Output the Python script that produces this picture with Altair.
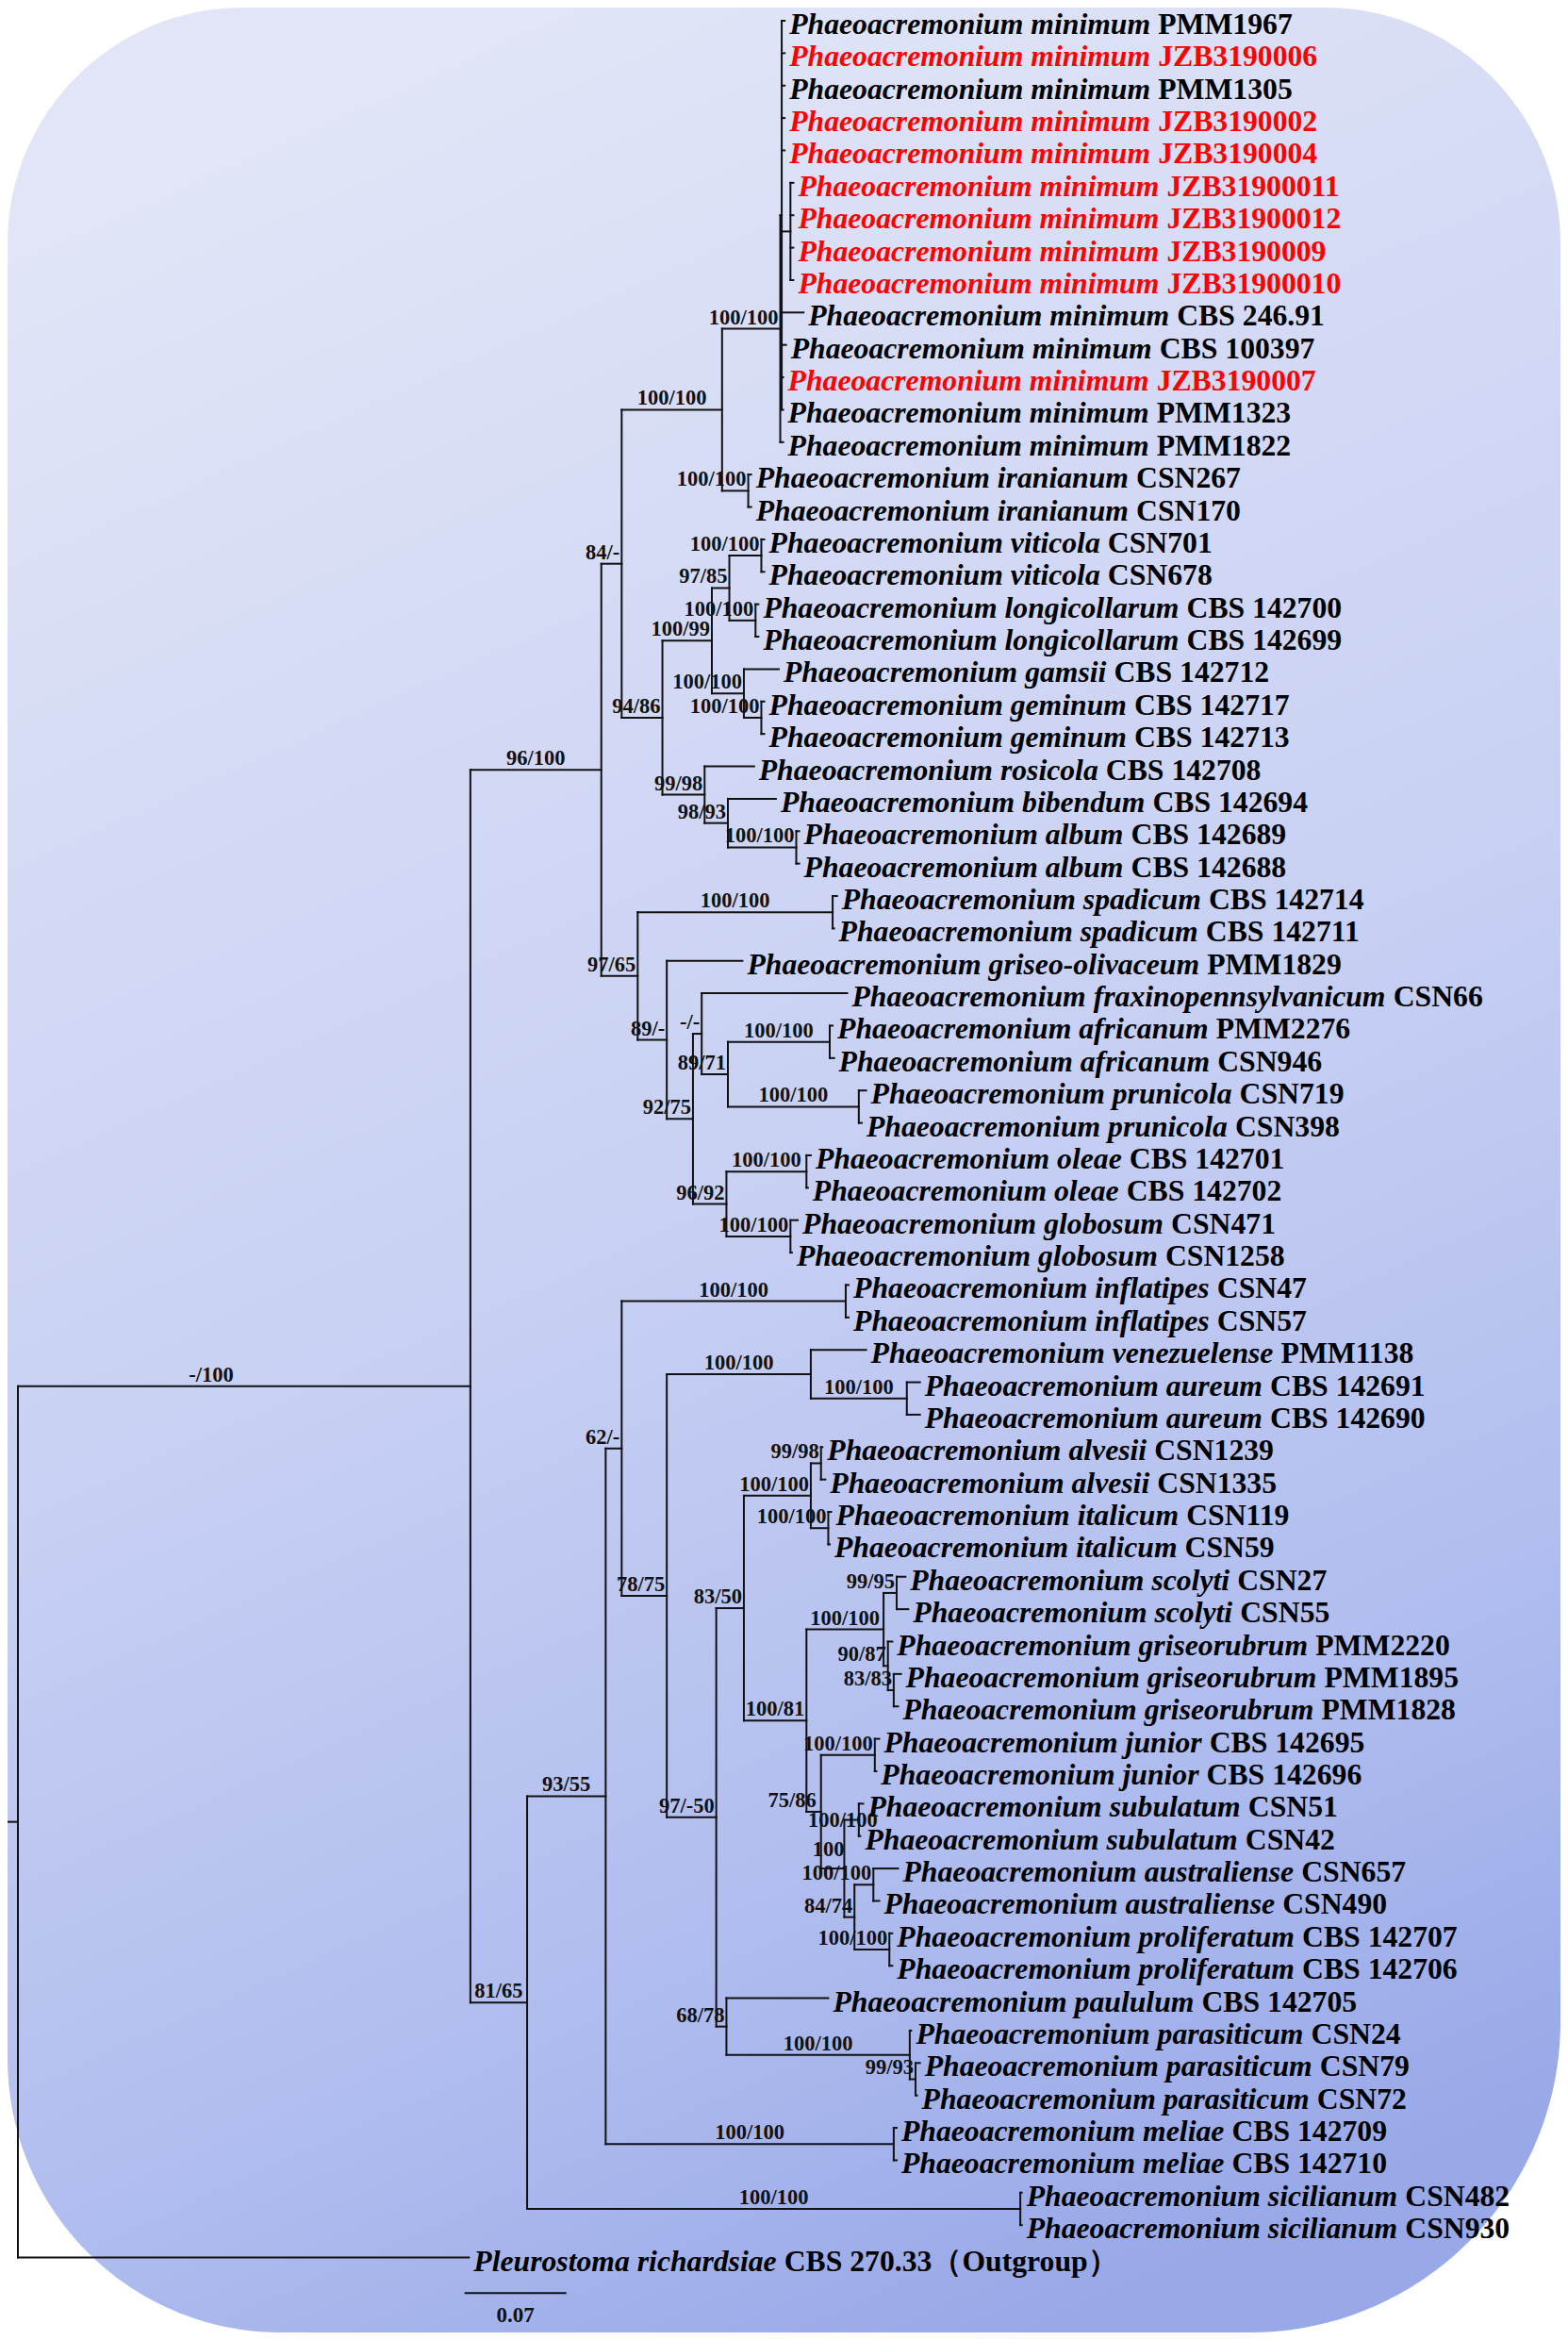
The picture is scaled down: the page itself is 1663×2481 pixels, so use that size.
import glob
import struct
import altair as alt
import pandas as pd

# ---------------- data ----------------
GENUS = "Phaeoacremonium"
leaf_species = (
    ["minimum"] * 14
    + ["iranianum"] * 2 + ["viticola"] * 2 + ["longicollarum"] * 2 + ["gamsii"]
    + ["geminum"] * 2 + ["rosicola", "bibendum"] + ["album"] * 2 + ["spadicum"] * 2
    + ["griseo-olivaceum", "fraxinopennsylvanicum"] + ["africanum"] * 2 + ["prunicola"] * 2
    + ["oleae"] * 2 + ["globosum"] * 2 + ["inflatipes"] * 2 + ["venezuelense"]
    + ["aureum"] * 2 + ["alvesii"] * 2 + ["italicum"] * 2 + ["scolyti"] * 2
    + ["griseorubrum"] * 3 + ["junior"] * 2 + ["subulatum"] * 2 + ["australiense"] * 2
    + ["proliferatum"] * 2 + ["paululum"] + ["parasiticum"] * 3 + ["meliae"] * 2
    + ["sicilianum"] * 2
)
leaf_strain = [
    "PMM1967", "JZB3190006", "PMM1305", "JZB3190002", "JZB3190004", "JZB31900011",
    "JZB31900012", "JZB3190009", "JZB31900010", "CBS 246.91", "CBS 100397", "JZB3190007",
    "PMM1323", "PMM1822", "CSN267", "CSN170", "CSN701", "CSN678", "CBS 142700",
    "CBS 142699", "CBS 142712", "CBS 142717", "CBS 142713", "CBS 142708", "CBS 142694",
    "CBS 142689", "CBS 142688", "CBS 142714", "CBS 142711", "PMM1829", "CSN66",
    "PMM2276", "CSN946", "CSN719", "CSN398", "CBS 142701", "CBS 142702", "CSN471",
    "CSN1258", "CSN47", "CSN57", "PMM1138", "CBS 142691", "CBS 142690", "CSN1239",
    "CSN1335", "CSN119", "CSN59", "CSN27", "CSN55", "PMM2220", "PMM1895", "PMM1828",
    "CBS 142695", "CBS 142696", "CSN51", "CSN42", "CSN657", "CSN490", "CBS 142707",
    "CBS 142706", "CBS 142705", "CSN24", "CSN79", "CSN72", "CBS 142709", "CBS 142710",
    "CSN482", "CSN930",
]
leaf_parent = [
    "M1", "M1", "M1", "M1", "M1", "S", "S", "S", "S", "M1", "M1", "M1", "M1", "M",
    "IR", "IR", "V", "V", "L", "L", "K", "GM", "GM", "H", "N", "AL", "AL", "SP", "SP",
    "P", "R", "AF", "AF", "PR", "PR", "OL", "OL", "GL", "GL", "IN", "IN", "Z", "AU",
    "AU", "AV", "AV", "IT", "IT", "SC", "SC", "GR", "GR2", "GR2", "JU", "JU", "SU",
    "SU", "AS", "AS", "PF", "PF", "AC", "PA", "PB", "PB", "ME", "ME", "SI", "SI",
]
leaf_depth = [
    0.527, 0.527, 0.527, 0.527, 0.527, 0.533, 0.533, 0.533, 0.533, 0.540, 0.528, 0.526,
    0.526, 0.526, 0.504, 0.504, 0.513, 0.513, 0.509, 0.509, 0.523, 0.513, 0.513, 0.506,
    0.521, 0.537, 0.537, 0.563, 0.561, 0.498, 0.570, 0.560, 0.561, 0.583, 0.580, 0.545,
    0.543, 0.536, 0.532, 0.571, 0.571, 0.583, 0.620, 0.620, 0.553, 0.555, 0.559, 0.558,
    0.610, 0.612, 0.601, 0.607, 0.605, 0.592, 0.590, 0.581, 0.579, 0.605, 0.592, 0.601,
    0.601, 0.557, 0.614, 0.620, 0.618, 0.604, 0.604, 0.690, 0.690,
]
red_strains = ["JZB3190006", "JZB3190002", "JZB3190004", "JZB31900011", "JZB31900012",
               "JZB3190009", "JZB31900010", "JZB3190007"]

outgroup_species = "Pleurostoma richardsiae"
outgroup_strain = "CBS 270.33（Outgroup）"
outgroup_depth = 0.310

node_id = ["root", "I", "A", "C", "E", "M", "M1", "S", "IR", "F", "G", "J", "V", "L", "K",
           "GM", "H", "N", "AL", "D", "SP", "P", "Q", "R", "U", "AF", "PR", "T", "OL", "GL",
           "B", "W", "X", "IN", "Y", "Z", "AU", "AA", "AB", "AD", "AV", "IT", "AE", "AF2",
           "SC", "GR", "GR2", "AG", "JU", "AH", "SU", "AI", "AS", "PF", "AC", "PA", "PB",
           "ME", "SI"]
node_parent = ["", "root", "I", "A", "C", "E", "M", "M1", "E", "C", "F", "G", "J", "J", "G",
               "K", "F", "H", "N", "A", "D", "D", "P", "Q", "R", "U", "U", "Q", "T", "T",
               "I", "B", "W", "X", "X", "Y", "Z", "Y", "AA", "AB", "AD", "AD", "AB", "AE",
               "AF2", "AF2", "GR", "AE", "AG", "AG", "AH", "AH", "AI", "AI", "AA", "AC", "PA",
               "W", "B"]
node_depth = [0.0, 0.311, 0.401, 0.415, 0.484, 0.524, 0.525, 0.531, 0.502, 0.443, 0.477,
              0.489, 0.511, 0.507, 0.499, 0.511, 0.472, 0.488, 0.535, 0.426, 0.560, 0.446,
              0.464, 0.470, 0.488, 0.558, 0.578, 0.487, 0.542, 0.531, 0.350, 0.404, 0.415,
              0.569, 0.446, 0.545, 0.611, 0.480, 0.499, 0.545, 0.552, 0.557, 0.542, 0.595,
              0.604, 0.598, 0.602, 0.552, 0.589, 0.568, 0.578, 0.575, 0.588, 0.599, 0.487,
              0.613, 0.617, 0.602, 0.689]
node_support = ["", "-/100", "96/100", "84/-", "100/100", "100/100", "", "", "100/100",
                "94/86", "100/99", "97/85", "100/100", "100/100", "100/100", "100/100",
                "99/98", "98/93", "100/100", "97/65", "100/100", "89/-", "92/75", "-/-",
                "89/71", "100/100", "100/100", "96/92", "100/100", "100/100", "81/65",
                "93/55", "62/-", "100/100", "78/75", "100/100", "100/100", "97/-50", "83/50",
                "100/100", "99/98", "100/100", "100/81", "100/100", "99/95", "90/87", "83/83",
                "75/86", "100/100", "100", "100/100", "84/74", "100/100", "100/100", "68/78",
                "100/100", "99/93", "100/100", "100/100"]
root_stem = 0.008
scale_bar_start = 0.307
scale_bar_length = 0.07

# ---------------- layout constants ----------------
W, H = 1647, 2465
PX = 1543.0                      # pixels per substitution/site
X_RANGE = [11, 11 + PX]
ROW0, ROWH = 14, 34.37
N_ROWS = len(leaf_species) + 1
Y_RANGE = [ROW0, ROW0 + (N_ROWS - 1) * ROWH]
LEAF_FS, SUP_FS = 31.7, 22.5
FONT = "Liberation Serif"
# hand placement of a few crowded support labels (pixel nudges: dx, dy)
LABEL_NUDGE = {"I": (-35, 0), "SU": (22, 12), "AH": (2, -8), "AG": (-3, 0)}


def _measurer(fname):
    paths = []
    for base in ("/usr/share/fonts", "/usr/local/share/fonts"):
        paths += glob.glob(base + "/**/" + fname, recursive=True)
    if not paths:
        return None
    try:
        data = open(paths[0], "rb").read()
        ntab = struct.unpack(">H", data[4:6])[0]
        tabs = {}
        for i in range(ntab):
            tag, _, off, ln = struct.unpack(">4sIII", data[12 + 16 * i:28 + 16 * i])
            tabs[tag.decode("latin1")] = off
        head = tabs["head"]
        upem = struct.unpack(">H", data[head + 18:head + 20])[0]
        hhea = tabs["hhea"]
        nhm = struct.unpack(">H", data[hhea + 34:hhea + 36])[0]
        hm = tabs["hmtx"]
        adv = [struct.unpack(">H", data[hm + 4 * i:hm + 4 * i + 2])[0] for i in range(nhm)]
        cm = tabs["cmap"]
        nsub = struct.unpack(">H", data[cm + 2:cm + 4])[0]
        sub = None
        for i in range(nsub):
            pid, eid, off = struct.unpack(">HHI", data[cm + 4 + 8 * i:cm + 12 + 8 * i])
            fmt = struct.unpack(">H", data[cm + off:cm + off + 2])[0]
            if pid == 3 and eid == 1 and fmt == 4:
                sub = cm + off
        segx2 = struct.unpack(">H", data[sub + 6:sub + 8])[0]
        seg = segx2 // 2
        ends = struct.unpack(">%dH" % seg, data[sub + 14:sub + 14 + segx2])
        starts = struct.unpack(">%dH" % seg, data[sub + 16 + segx2:sub + 16 + 2 * segx2])
        deltas = struct.unpack(">%dh" % seg, data[sub + 16 + 2 * segx2:sub + 16 + 3 * segx2])
        rpos = sub + 16 + 3 * segx2
        roffs = struct.unpack(">%dH" % seg, data[rpos:rpos + segx2])

        def gid(c):
            for i in range(seg):
                if starts[i] <= c <= ends[i]:
                    if roffs[i] == 0:
                        return (c + deltas[i]) & 0xFFFF
                    addr = rpos + 2 * i + roffs[i] + 2 * (c - starts[i])
                    g = struct.unpack(">H", data[addr:addr + 2])[0]
                    return (g + deltas[i]) & 0xFFFF if g else 0
            return 0

        def width(s, size):
            return sum(adv[min(gid(ord(ch)), nhm - 1)] for ch in s) / upem * size
        return width
    except Exception:
        return None


w_bi = _measurer("LiberationSerif-BoldItalic.ttf") or (lambda s, z: len(s) * 0.5 * z)
w_b = _measurer("LiberationSerif-Bold.ttf") or (lambda s, z: len(s) * 0.5 * z)

# ---------------- tree geometry ----------------
depth = dict(zip(node_id, node_depth))
children = {n: [] for n in node_id}
all_species = [GENUS + " " + s for s in leaf_species] + [outgroup_species]
all_strain = leaf_strain + [outgroup_strain]
all_depth = leaf_depth + [outgroup_depth]
all_parent = leaf_parent + ["root"]
for i, p in enumerate(all_parent):
    children[p].append(("leaf", i))
for n, p in zip(node_id, node_parent):
    if p:
        children[p].append(("node", n))

ycache = {}


def ypos(kind, key):
    if kind == "leaf":
        return float(key)
    if key not in ycache:
        ys = [ypos(k, c) for k, c in children[key]]
        ycache[key] = (min(ys) + max(ys)) / 2
    return ycache[key]


edges = []
for i, p in enumerate(all_parent):
    edges.append(dict(x=depth[p], x2=all_depth[i], y=float(i), y2=float(i)))
for n, p in zip(node_id, node_parent):
    yn = ypos("node", n)
    if p:
        edges.append(dict(x=depth[p], x2=depth[n], y=yn, y2=yn))
    ys = [ypos(k, c) for k, c in children[n]]
    edges.append(dict(x=depth[n], x2=depth[n], y=min(ys), y2=max(ys)))
yr = ypos("node", "root")
edges.append(dict(x=-root_stem, x2=0.0, y=yr, y2=yr))
edges_df = pd.DataFrame(edges)

colors = ["#ff0000" if s in red_strains else "#000000" for s in all_strain]
sp_df = pd.DataFrame(dict(x=all_depth, y=list(range(N_ROWS)), t=all_species, c=colors))
st_x = [d + w_bi(sp + " ", LEAF_FS) / PX for d, sp in zip(all_depth, all_species)]
st_df = pd.DataFrame(dict(x=st_x, y=list(range(N_ROWS)), t=all_strain, c=colors))

sup = []
for n, p, s in zip(node_id, node_parent, node_support):
    if not s:
        continue
    mid = (depth[p] + depth[n]) / 2 * PX
    w = w_b(s, SUP_FS)
    cx = min(mid, depth[n] * PX - 2 - w / 2)
    ndx, ndy = LABEL_NUDGE.get(n, (0, 0))
    sup.append(dict(x=(cx + ndx) / PX, y=ypos("node", n) + ndy / ROWH, t=s))
sup_df = pd.DataFrame(sup)

sb_y = N_ROWS - 1 + 1.1
sb_df = pd.DataFrame(dict(x=[scale_bar_start], x2=[scale_bar_start + scale_bar_length],
                          y=[sb_y], xm=[scale_bar_start + scale_bar_length / 2],
                          t=[f"{scale_bar_length:.2f}"]))

xs = alt.Scale(domain=[0, 1], range=X_RANGE, nice=False, zero=False)
ys = alt.Scale(domain=[0, N_ROWS - 1], range=Y_RANGE, nice=False, zero=False)

grad = alt.LinearGradient(
    gradient="linear",
    stops=[alt.GradientStop(color="#e1e5f7", offset=0),
           alt.GradientStop(color="#c8d0f3", offset=0.5),
           alt.GradientStop(color="#afbcee", offset=0.8),
           alt.GradientStop(color="#99a9e8", offset=1)],
    x1=0.35, y1=0, x2=0.65, y2=1,
)
bg = alt.Chart(pd.DataFrame({"a": [0]})).mark_rect(
    fill=grad, cornerRadiusTopLeft=250, cornerRadiusTopRight=250,
    cornerRadiusBottomLeft=290, cornerRadiusBottomRight=330,
).encode(x=alt.value(0), x2=alt.value(W), y=alt.value(0), y2=alt.value(H))

lines = alt.Chart(edges_df).mark_rule(color="#111111", strokeWidth=2, strokeCap="square").encode(
    x=alt.X("x:Q", scale=xs, axis=None), x2="x2:Q",
    y=alt.Y("y:Q", scale=ys, axis=None), y2="y2:Q",
)

species_txt = alt.Chart(sp_df).mark_text(
    align="left", baseline="middle", dx=5, dy=4, font=FONT, fontSize=LEAF_FS,
    fontStyle="italic", fontWeight="bold",
).encode(x=alt.X("x:Q", scale=xs, axis=None), y=alt.Y("y:Q", scale=ys, axis=None),
         text="t:N", color=alt.Color("c:N", scale=None))

strain_txt = alt.Chart(st_df).mark_text(
    align="left", baseline="middle", dx=5, dy=4, font=FONT, fontSize=LEAF_FS,
    fontWeight="bold",
).encode(x=alt.X("x:Q", scale=xs, axis=None), y=alt.Y("y:Q", scale=ys, axis=None),
         text="t:N", color=alt.Color("c:N", scale=None))

support_txt = alt.Chart(sup_df).mark_text(
    align="center", baseline="alphabetic", dy=-5, font=FONT, fontSize=SUP_FS,
    fontWeight="bold", color="#111111",
).encode(x=alt.X("x:Q", scale=xs, axis=None), y=alt.Y("y:Q", scale=ys, axis=None), text="t:N")

sbar = alt.Chart(sb_df).mark_rule(color="#111111", strokeWidth=2).encode(
    x=alt.X("x:Q", scale=xs, axis=None), x2="x2:Q", y=alt.Y("y:Q", scale=ys, axis=None),
)
sbar_txt = alt.Chart(sb_df).mark_text(
    align="center", baseline="top", dy=13, font=FONT, fontSize=23, fontWeight="bold",
    color="#111111",
).encode(x=alt.X("xm:Q", scale=xs, axis=None), y=alt.Y("y:Q", scale=ys, axis=None), text="t:N")

chart = alt.layer(bg, lines, species_txt, strain_txt, support_txt, sbar, sbar_txt).properties(
    width=W, height=H, padding=0, autosize=alt.AutoSizeParams(type="none"),
    background="white",
).configure_view(stroke=None)

chart.save("out.html", embed_options={"renderer": "svg", "actions": False})
